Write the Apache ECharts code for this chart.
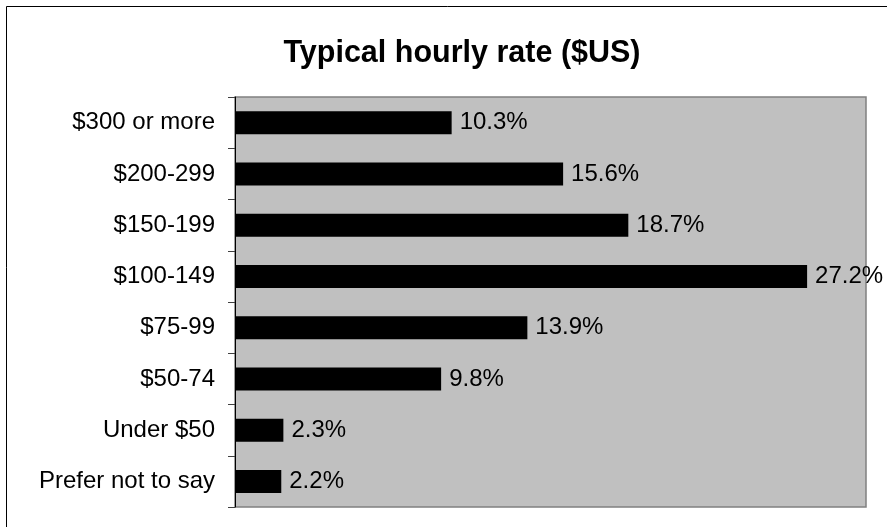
<!DOCTYPE html>
<html>
<head>
<meta charset="utf-8">
<script src="https://cdn.jsdelivr.net/npm/echarts@6/dist/echarts.min.js"></script>
<style>
html,body{margin:0;padding:0;background:#fff;}
#chart{width:887px;height:527px;}
</style>
</head>
<body>
<div id="chart"></div>
<script>
const titleText = 'Typical hourly rate ($US)';
const categories = ['$300 or more', '$200-299', '$150-199', '$100-149', '$75-99', '$50-74', 'Under $50', 'Prefer not to say'];
const values = [10.3, 15.6, 18.7, 27.2, 13.9, 9.8, 2.3, 2.2];
const xMax = 30;

const chart = echarts.init(document.getElementById('chart'), null, {renderer: 'canvas'});
const font = 'Liberation Sans, Arial, sans-serif';
chart.setOption({
  animation: false,
  backgroundColor: '#fff',
  title: {
    text: titleText,
    left: 457,
    top: 33,
    textAlign: 'center',
    textStyle: {fontFamily: font, fontWeight: 'bold', fontSize: 30.5, color: '#000'}
  },
  graphic: [{
    type: 'rect', silent: true, z: -1,
    shape: {x: 6.5, y: 6.5, width: 1000, height: 1000},
    style: {fill: 'none', stroke: '#000', lineWidth: 1}
  }],
  grid: {
    left: 235, top: 97, right: 21, bottom: 20,
    show: true, backgroundColor: '#c0c0c0', borderColor: '#808080', borderWidth: 1.5
  },
  xAxis: {
    type: 'value', min: 0, max: xMax, show: false, splitLine: {show: false}
  },
  yAxis: {
    type: 'category', data: categories, inverse: true,
    axisLine: {show: true, lineStyle: {color: '#000', width: 1}},
    axisTick: {show: true, length: 7, lineStyle: {color: '#404040'}},
    axisLabel: {margin: 20, color: '#000', fontFamily: font, fontSize: 24}
  },
  series: [{
    type: 'bar', data: values, barWidth: 23,
    itemStyle: {color: '#000'},
    label: {
      show: true, position: 'right', distance: 8,
      formatter: p => p.value.toFixed(1) + '%',
      color: '#000', fontFamily: font, fontSize: 24
    }
  }]
});
</script>
</body>
</html>
